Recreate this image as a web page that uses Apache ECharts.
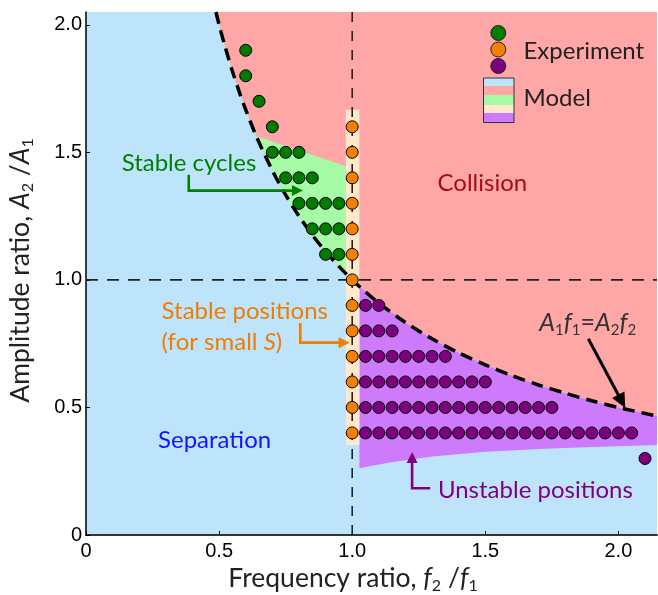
<!DOCTYPE html>
<html><head><meta charset="utf-8">
<script src="https://cdn.jsdelivr.net/npm/echarts@6/dist/echarts.min.js"></script>
<style>html,body{margin:0;padding:0;background:#fff}#c{width:658px;height:595px}</style>
</head><body><div id="c"></div>
<script>
// ---- data ----
const xTicks = [0, 0.5, 1.0, 1.5, 2.0];
const yTicks = [0, 0.5, 1.0, 1.5, 2.0];
const xRange = [0, 2.145];
const yRange = [0, 2.05];

// Experiment points
const greenPts = [[0.6,1.9],[0.6,1.8],[0.65,1.7],[0.7,1.6],
  [0.7,1.5],[0.75,1.5],[0.8,1.5],
  [0.75,1.4],[0.8,1.4],[0.85,1.4],
  [0.8,1.3],[0.85,1.3],[0.9,1.3],[0.95,1.3],
  [0.85,1.2],[0.9,1.2],[0.95,1.2],
  [0.9,1.1],[0.95,1.1]];
const orangePts = [[1,0.4],[1,0.5],[1,0.6],[1,0.7],[1,0.8],[1,0.9],[1,1.0],[1,1.1],[1,1.2],[1,1.3],[1,1.4],[1,1.5],[1,1.6]];
const purplePts = [
  [1.05,0.9],[1.1,0.9],
  [1.05,0.8],[1.1,0.8],[1.15,0.8],
  [1.05,0.7],[1.1,0.7],[1.15,0.7],[1.2,0.7],[1.25,0.7],[1.3,0.7],[1.35,0.7],
  [1.05,0.6],[1.1,0.6],[1.15,0.6],[1.2,0.6],[1.25,0.6],[1.3,0.6],[1.35,0.6],[1.4,0.6],[1.45,0.6],[1.5,0.6],
  [1.05,0.5],[1.1,0.5],[1.15,0.5],[1.2,0.5],[1.25,0.5],[1.3,0.5],[1.35,0.5],[1.4,0.5],[1.45,0.5],[1.5,0.5],[1.55,0.5],[1.6,0.5],[1.65,0.5],[1.7,0.5],[1.75,0.5],
  [1.05,0.4],[1.1,0.4],[1.15,0.4],[1.2,0.4],[1.25,0.4],[1.3,0.4],[1.35,0.4],[1.4,0.4],[1.45,0.4],[1.5,0.4],[1.55,0.4],[1.6,0.4],[1.65,0.4],[1.7,0.4],[1.75,0.4],[1.8,0.4],[1.85,0.4],[1.9,0.4],[1.95,0.4],[2.0,0.4],[2.05,0.4],
  [2.1,0.3]];

// Model boundaries
const boundaryCurve = [[0.488,2.05],[0.5,2.0],[0.52,1.923],[0.55,1.818],[0.58,1.724],[0.6,1.667],[0.64,1.5625],
  [0.7,1.429],[0.75,1.333],[0.8,1.25],[0.85,1.176],[0.9,1.111],[0.95,1.053],[0.976,1.025],[1.0,1.0],[1.027,0.974],
  [1.1,0.909],[1.2,0.833],[1.3,0.769],[1.4,0.714],[1.5,0.667],[1.6,0.625],[1.7,0.588],[1.8,0.556],[1.9,0.526],[2.0,0.5],[2.145,0.466]];
const cyclesTopEdge = [[0.976,1.445],[0.64,1.5625]];
const unstableLowerEdge = [[2.145,0.353],[1.9,0.345],[1.7,0.337],[1.5,0.326],[1.3,0.308],[1.14,0.284],[1.027,0.262]];
const stableStrip = [[0.976,0.353],[1.027,0.353],[1.027,1.667],[0.976,1.667]];
const refX = 1.0, refY = 1.0;

// ---- colours ----
const C = {sep:'#bee4fc', col:'#ffa7a7', cyc:'#a6fca6', pos:'#ffe9ca', uns:'#cd7afd'};

const collisionPoly = boundaryCurve.concat([[xRange[1], yRange[1]], [boundaryCurve[0][0], yRange[1]]]);
const cyclesPoly = boundaryCurve.filter(p => p[0] >= 0.64 && p[0] <= 0.976).concat(cyclesTopEdge);
const unstablePoly = boundaryCurve.filter(p => p[0] >= 1.027).concat(unstableLowerEdge);

function polySeries(name, pts, color, z) {
  return {type:'custom', name, silent:true, z, clip:true, data:[[0,0]],
    renderItem:(params, api) => ({type:'polygon', shape:{points: pts.map(p => api.coord(p))}, style:{fill:color}})};
}
function scatterSeries(name, pts, color) {
  return {type:'scatter', name, data:pts, symbolSize:12, z:10, silent:true,
    itemStyle:{color, borderColor:'#000', borderWidth:1, opacity:1}};
}

const FONT = 'Lato, "Open Sans", sans-serif';
const subRich = (fs) => ({
  t:{fontSize:fs, fontFamily:FONT, color:'#222'},
  i:{fontSize:fs, fontFamily:FONT, fontStyle:'italic', color:'#222'},
  s:{fontSize:Math.round(fs*0.62), fontFamily:FONT, color:'#222', padding:[Math.round(fs*0.55),0,0,0]}
});

function arrow(pts, color, lw, hl, hw) {
  const tip = pts[pts.length-1], from = pts[pts.length-2];
  const dx = tip[0]-from[0], dy = tip[1]-from[1], d = Math.hypot(dx,dy), ux = dx/d, uy = dy/d;
  const bx = tip[0]-ux*hl, by = tip[1]-uy*hl;
  const shaft = pts.slice(0,-1).concat([[tip[0]-ux*hl*0.7, tip[1]-uy*hl*0.7]]);
  return [
    {type:'polyline', shape:{points:shaft}, style:{stroke:color, lineWidth:lw, fill:null}},
    {type:'polygon', shape:{points:[tip,[bx-uy*hw,by+ux*hw],[bx+uy*hw,by-ux*hw]]}, style:{fill:color}}
  ];
}

const AF = 24;
const annotations = {
  type:'custom', silent:true, z:20, clip:false, data:[[0,0]],
  renderItem:(params, api) => {
    const P = p => api.coord(p);
    const els = [];
    const txt = (p, text, color, align, extra) => els.push({type:'text', x:P(p)[0], y:P(p)[1],
      style:Object.assign({text, fill:color, font:AF+'px '+FONT, align, verticalAlign:'middle'}, extra||{})});
    txt([0.134,1.459], 'Stable cycles', '#008000', 'left');
    els.push(...arrow([P([0.386,1.412]),P([0.386,1.350]),P([0.815,1.350])], '#008000', 2.6, 11, 5.5));
    txt([0.284,0.878], 'Stable positions', '#f07d00', 'left');
    txt([0.284,0.757], '{n|(for small }{i|S}{n|)}', '#f07d00', 'left', {rich:{
      n:{fontSize:AF, fontFamily:FONT, fill:'#f07d00'}, i:{fontSize:AF, fontFamily:FONT, fontStyle:'italic', fill:'#f07d00'}}});
    els.push(...arrow([P([0.805,0.831]),P([0.805,0.754]),P([0.99,0.754])], '#f07d00', 2.6, 11, 5.5));
    txt([1.322,0.176], 'Unstable positions', '#800080', 'left');
    els.push(...arrow([P([1.293,0.183]),P([1.225,0.183]),P([1.225,0.325])], '#800080', 2.6, 11, 5.5));
    txt([1.489,1.380], 'Collision', '#a50e0e', 'center');
    txt([0.483,0.373], 'Separation', '#1414ff', 'center');
    txt([1.703,0.830], '{i|A}{s|1}{i|f}{s|1}{n|=}{i|A}{s|2}{i|f}{s|2}', '#333', 'left', {rich:{
      i:{fontSize:25, fontFamily:FONT, fontStyle:'italic', fill:'#333'},
      n:{fontSize:25, fontFamily:FONT, fill:'#333'},
      s:{fontSize:15, fontFamily:FONT, fill:'#333', padding:[13,0,0,0]}}});
    els.push(...arrow([P([1.887,0.769]),P([2.026,0.498])], '#000', 3, 15, 7));
    return {type:'group', children:els};
  }
};

const chart = echarts.init(document.getElementById('c'), null, {renderer:'canvas'});
const axisCommon = {
  type:'value', splitLine:{show:false},
  axisLine:{show:true, onZero:false, lineStyle:{color:'#000', width:1.5}},
  axisTick:{show:true, inside:true, length:4, lineStyle:{color:'#000', width:1}},
  axisLabel:{fontSize:20, fontFamily:'"Liberation Sans", Arial, sans-serif', color:'#000',
    formatter:v => v === 0 ? '0' : v.toFixed(1)}
};
chart.setOption({
  animation:false,
  grid:{left:86, top:12, width:571, height:523, show:true, backgroundColor:C.sep, borderWidth:0,
    outerBoundsMode:'none', containLabel:false},
  xAxis:[
    Object.assign({}, axisCommon, {min:xRange[0], max:xRange[1], interval:0.5,
      axisTick:Object.assign({}, axisCommon.axisTick, {customValues:xTicks}),
      axisLabel:Object.assign({}, axisCommon.axisLabel, {customValues:xTicks, margin:6}),
      name:'{t|Frequency ratio, }{i|f}{s|2}{t| /}{i|f}{s|1}', nameLocation:'middle', nameGap:28, nameMoveOverlap:false,
      nameTextStyle:{rich:subRich(26.5), padding:[0,37,0,0]}}),
    {type:'value', position:'top', min:xRange[0], max:xRange[1], splitLine:{show:false},
      axisLine:{show:true, lineStyle:{color:'#333', width:1.5}}, axisTick:{show:false}, axisLabel:{show:false}}
  ],
  yAxis:Object.assign({}, axisCommon, {min:yRange[0], max:yRange[1], interval:0.5,
    axisTick:Object.assign({}, axisCommon.axisTick, {customValues:yTicks}),
    axisLabel:Object.assign({}, axisCommon.axisLabel, {customValues:yTicks, margin:4}),
    name:'{t|Amplitude ratio, }{i|A}{s|2}{t| /}{i|A}{s|1}', nameLocation:'middle', nameGap:50, nameMoveOverlap:false,
    nameTextStyle:{rich:subRich(26.5), padding:[0,0,0,6]}}),
  series:[
    polySeries('Collision', collisionPoly, C.col, 1),
    polySeries('Stable cycles', cyclesPoly, C.cyc, 2),
    polySeries('Unstable positions', unstablePoly, C.uns, 2),
    polySeries('Stable positions', stableStrip, C.pos, 3),
    {type:'line', name:'f2=1', data:[[refX,yRange[0]],[refX,yRange[1]]], showSymbol:false, silent:true, z:5,
      lineStyle:{color:'#222', width:1.6, type:[10,9]}},
    {type:'line', name:'A2=1', data:[[xRange[0],refY],[xRange[1],refY]], showSymbol:false, silent:true, z:5,
      lineStyle:{color:'#222', width:1.6, type:[12,9]}},
    {type:'line', name:'A1f1=A2f2', data:boundaryCurve, showSymbol:false, silent:true, z:6, smooth:0.3,
      lineStyle:{color:'#000', width:3.5, type:[12,7]}},
    scatterSeries('Experiment (cycles)', greenPts, '#007a00'),
    scatterSeries('Experiment (stable)', orangePts, '#f57f00'),
    scatterSeries('Experiment (unstable)', purplePts, '#7d007d'),
    annotations
  ],
  graphic:[
    {type:'circle', shape:{cx:498.3, cy:33, r:7.5}, style:{fill:'#007a00', stroke:'#222', lineWidth:1}, z:30},
    {type:'circle', shape:{cx:498.3, cy:49.5, r:7.5}, style:{fill:'#f57f00', stroke:'#222', lineWidth:1}, z:30},
    {type:'circle', shape:{cx:498.3, cy:66, r:7.5}, style:{fill:'#7d007d', stroke:'#222', lineWidth:1}, z:30},
    {type:'rect', shape:{x:483.5, y:78, width:30.5, height:8}, style:{fill:C.sep}, z:30},
    {type:'rect', shape:{x:483.5, y:86, width:30.5, height:9}, style:{fill:C.col}, z:30},
    {type:'rect', shape:{x:483.5, y:95, width:30.5, height:10}, style:{fill:C.cyc}, z:30},
    {type:'rect', shape:{x:483.5, y:105, width:30.5, height:8}, style:{fill:C.pos}, z:30},
    {type:'rect', shape:{x:483.5, y:113, width:30.5, height:9.5}, style:{fill:C.uns}, z:30},
    {type:'rect', shape:{x:483.5, y:78, width:30.5, height:44.5}, style:{fill:null, stroke:'#333', lineWidth:1}, z:31},
    {type:'text', x:523.5, y:51.5, style:{text:'Experiment', font:'24px '+FONT, fill:'#222', verticalAlign:'middle'}, z:30},
    {type:'text', x:523.5, y:98.5, style:{text:'Model', font:'24px '+FONT, fill:'#222', verticalAlign:'middle'}, z:30}
  ]
});
</script></body></html>
